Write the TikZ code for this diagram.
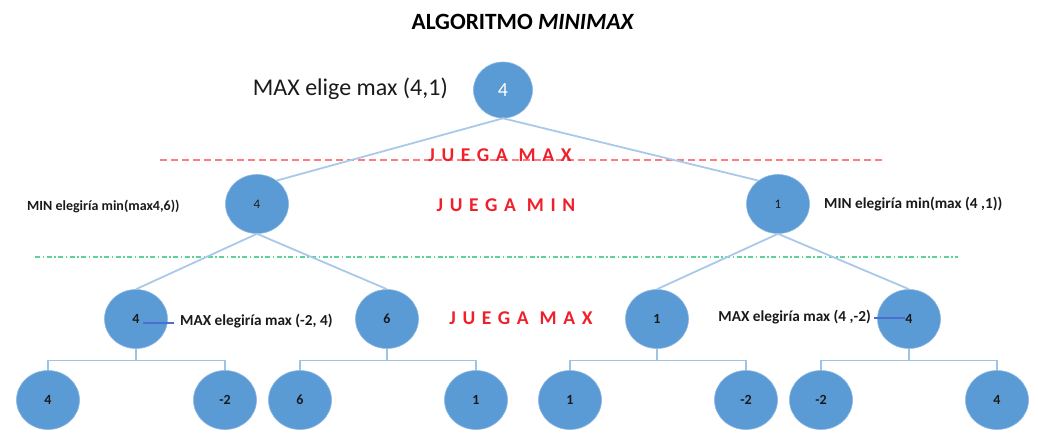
\documentclass[tikz,border=0pt]{standalone}
\usepackage{fontspec}
\setmainfont{Carlito}
\usetikzlibrary{shapes.geometric}
\definecolor{nodefill}{HTML}{5B9BD5}
\definecolor{nodeedge}{HTML}{8DB6E2}
\definecolor{conn}{HTML}{A9C9EA}
\definecolor{brk}{HTML}{9DC3E6}
\definecolor{redtxt}{HTML}{F0202A}
\definecolor{redline}{HTML}{FF7C80}
\definecolor{greenline}{HTML}{5FD29A}
\definecolor{pointer}{HTML}{4A6FD0}
\definecolor{ink}{HTML}{1A1A1A}
\tikzset{
  tnode/.style={ellipse, fill=nodefill, draw=nodeedge, line width=0.6pt, inner sep=0pt,
                minimum width=63pt, minimum height=59pt, text=ink, font=\fontsize{14}{14}\selectfont\bfseries},
  rootnode/.style={tnode, minimum width=59pt, minimum height=56pt, text=white, font=\fontsize{20}{20}\selectfont},
  midnode/.style={tnode, font=\fontsize{13}{13}\selectfont},
  conline/.style={draw=conn, line width=1.8pt},
  bracket/.style={draw=brk, line width=1.4pt},
  note/.style={text=ink, inner sep=0pt, font=\fontsize{14}{16}\selectfont\bfseries},
  bignote/.style={note, font=\fontsize{15.3}{17}\selectfont\bfseries},
  turn/.style={text=redtxt, inner sep=0pt, font=\fontsize{19.5}{19.5}\selectfont\bfseries\addfontfeature{LetterSpace=34}},
  ptr/.style={draw=pointer, line width=1.2pt}
}
\begin{document}
\begin{tikzpicture}[x=1pt,y=-1pt]
\useasboundingbox (0,0) rectangle (1038,442);
% title
\node[inner sep=0pt, font=\fontsize{23.3}{23}\selectfont\bfseries] (title) at (523,22) {ALGORITMO \textit{MINIMAX}};
% separator lines
\coordinate (rl0) at (160,160); \coordinate (rl1) at (882,160);
\coordinate (gl0) at (35,257); \coordinate (gl1) at (958,257);
\draw[redline, line width=1.3pt, dash pattern=on 7pt off 4pt] (rl0) -- (rl1);
\draw[greenline, line width=1.3pt, dash pattern=on 5pt off 2.5pt on 1.5pt off 2.5pt] (gl0) -- (gl1);
% nodes
\node[rootnode] (root) at (503,90) {4};
\node[midnode] (l1a) at (257,204) {4};
\node[midnode] (l1b) at (778,204) {1};
\node[tnode] (l2a) at (136,319) {4};
\node[tnode] (l2b) at (387,319) {6};
\node[tnode] (l2c) at (657,319) {1};
\node[tnode] (l2d) at (909,319) {4};
\node[tnode] (l3a) at (48,400) {4};
\node[tnode] (l3b) at (225,400) {-2};
\node[tnode] (l3c) at (300,400) {6};
\node[tnode] (l3d) at (476,400) {1};
\node[tnode] (l3e) at (570,400) {1};
\node[tnode] (l3f) at (746,400) {-2};
\node[tnode] (l3g) at (821,400) {-2};
\node[tnode] (l3h) at (997,400) {4};
% connectors
\draw[conline] (root.south) -- (l1a.50);
\draw[conline] (root.south) -- (l1b.130);
\draw[conline] (l1a.south) -- (l2a.north);
\draw[conline] (l1a.south) -- (l2b.north);
\draw[conline] (l1b.south) -- (l2c.north);
\draw[conline] (l1b.south) -- (l2d.north);
\foreach \p/\a/\b in {l2a/l3a/l3b, l2b/l3c/l3d, l2c/l3e/l3f, l2d/l3g/l3h}{
  \draw[bracket] (\p.south) -- ++(0,11);
  \draw[bracket] (\a.north) -- ++(0,-10) -| (\b.north);
}
% texts
\node[inner sep=0pt, anchor=east, text=ink, font=\fontsize{24}{24}\selectfont] (maxroot) at (448,89) {MAX elige max (4,1)};
\node[note, anchor=west] (minl) at (27,206) {MIN elegiría min(max4,6))};
\node[bignote, anchor=west] (minr) at (824,204) {MIN elegiría min(max (4 ,1))};
\node[bignote, anchor=west] (maxl) at (180,321) {MAX elegiría max (-2, 4)};
\node[bignote, anchor=east] (maxr) at (871,317) {MAX elegiría max (4 ,-2)};
\draw[ptr] ([xshift=7pt,yshift=-4pt]l2a.center) -- ([xshift=-6pt,yshift=-2pt]maxl.west);
\draw[ptr] ([xshift=3pt,yshift=-1pt]maxr.east) -- ([xshift=-4pt,yshift=1pt]l2d.center);
\node[turn] (jmax1) at (500,155) {JUEGA MAX};
\node[turn] (jmin) at (506,205) {JUEGA MIN};
\node[turn] (jmax2) at (521,318) {JUEGA MAX};
\end{tikzpicture}
\end{document}
